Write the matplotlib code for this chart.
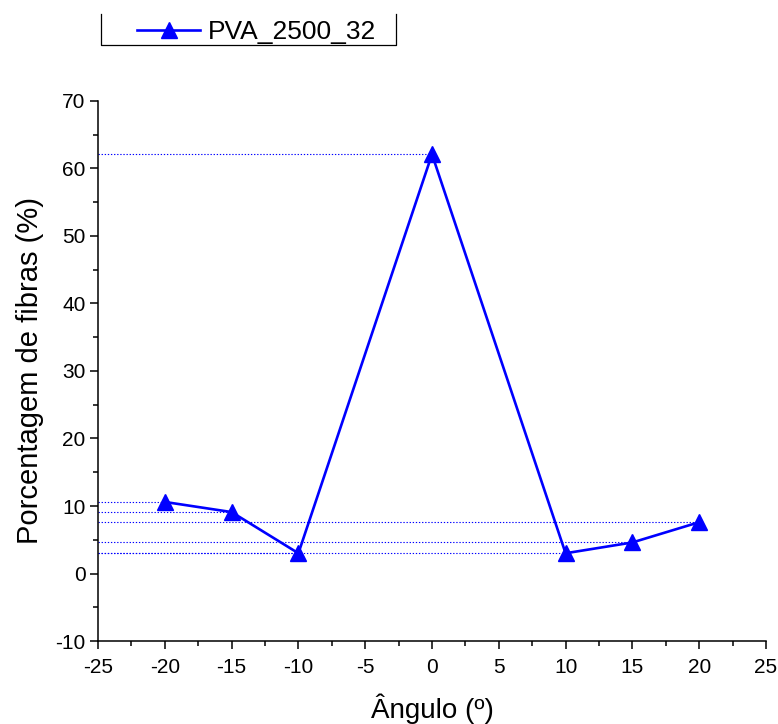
import matplotlib.pyplot as plt
from matplotlib.ticker import MultipleLocator
from matplotlib.lines import Line2D

plt.rcParams['font.family'] = ['Liberation Sans', 'DejaVu Sans']
plt.rcParams['axes.unicode_minus'] = False

# data
angulo = [-20, -15, -10, 0, 10, 15, 20]
porcentagem = [10.6, 9.1, 3.0, 62.1, 3.0, 4.6, 7.6]
serie = 'PVA_2500_32'

fig = plt.figure(figsize=(7.78, 7.24), dpi=100)
ax = fig.add_axes([0.126, 0.1146, 0.8585, 0.746])

# guide lines from the y axis to each point
for x, y in zip(angulo, porcentagem):
    ax.plot([-25, x], [y, y], color='blue', lw=0.8,
            linestyle=(0, (1.2, 1.6)), zorder=1)

ax.plot(angulo, porcentagem, color='blue', lw=1.9, marker='^',
        markersize=11, zorder=3)

ax.set_xlim(-25, 25)
ax.set_ylim(-10, 70)
ax.xaxis.set_major_locator(MultipleLocator(5))
ax.xaxis.set_minor_locator(MultipleLocator(2.5))
ax.yaxis.set_major_locator(MultipleLocator(10))
ax.yaxis.set_minor_locator(MultipleLocator(5))

for side in ['top', 'right']:
    ax.spines[side].set_visible(False)
for side in ['left', 'bottom']:
    ax.spines[side].set_linewidth(1.1)

ax.tick_params(which='major', direction='out', length=6, width=1.1,
               labelsize=15, pad=3)
ax.tick_params(axis='x', which='major', pad=6)
ax.tick_params(which='minor', direction='out', length=3.5, width=1.1)

ax.set_xlabel('Ângulo (º)', fontsize=20, labelpad=12)
ax.set_ylabel('Porcentagem de fibras (%)', fontsize=21, labelpad=8)

# legend box: only left, bottom and right edges show
x0, x1 = 101 / 778, 396 / 778
y0, y1 = 1 - 45 / 724, 1 - 14 / 724
fig.add_artist(Line2D([x0, x0, x1, x1], [y1, y0, y0, y1],
                      transform=fig.transFigure, color='black', lw=0.9))
handle = Line2D([], [], color='blue', lw=1.9, marker='^', markersize=11)
fig.legend([handle], [serie], loc='center left', bbox_to_anchor=(0.176, 0.956),
           frameon=False, fontsize=19, handlelength=2.4, handletextpad=0.3,
           borderpad=0, borderaxespad=0)

fig.savefig('out.png', dpi=100)
